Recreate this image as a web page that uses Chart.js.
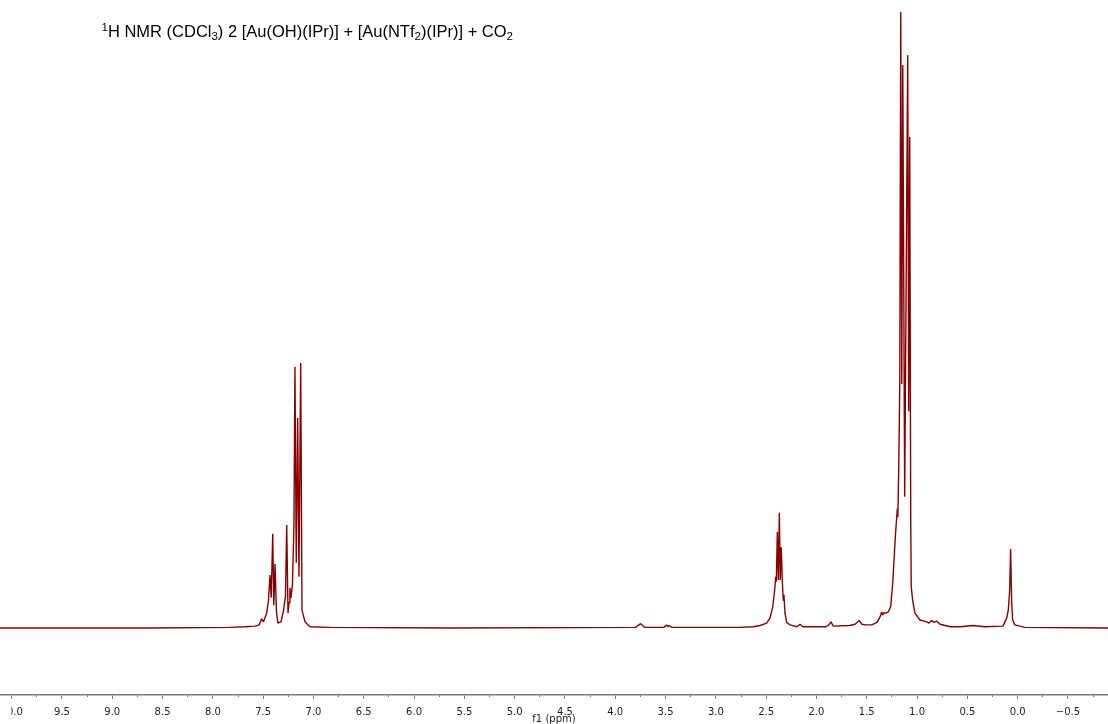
<!DOCTYPE html>
<html>
<head>
<meta charset="utf-8">
<title>1H NMR spectrum</title>
<script src="https://cdn.jsdelivr.net/npm/chart.js@4.4.1/dist/chart.umd.min.js"></script>
<style>
  html, body { margin: 0; padding: 0; background: #fff; }
  #wrap { width: 1108px; height: 724px; position: relative; }
</style>
</head>
<body>
<div id="wrap"><canvas id="spectrum"></canvas></div>
<script>
// chemical shift (ppm) and relative intensity of the traced spectrum
const shifts = [
  10.12, 8.63, 7.83, 7.68, 7.58, 7.54, 7.515, 7.497, 7.465, 7.447,
  7.432, 7.420, 7.405, 7.394, 7.382, 7.368, 7.353, 7.323, 7.298, 7.278,
  7.266, 7.253, 7.243, 7.234, 7.224, 7.209, 7.194, 7.184, 7.171, 7.157,
  7.144, 7.127, 7.114, 7.084, 7.035, 6.836, 5.64, 3.80, 3.748, 3.71,
  3.517, 3.491, 3.476, 3.466, 3.436, 2.76, 2.63, 2.56, 2.495, 2.462,
  2.435, 2.415, 2.405, 2.399, 2.389, 2.379, 2.369, 2.360, 2.350, 2.340,
  2.330, 2.323, 2.313, 2.296, 2.263, 2.194, 2.164, 2.134, 1.906, 1.876,
  1.856, 1.833, 1.67, 1.617, 1.575, 1.548, 1.508, 1.45, 1.398, 1.368,
  1.352, 1.342, 1.329, 1.309, 1.286, 1.262, 1.242, 1.229, 1.216, 1.202,
  1.196, 1.191, 1.182, 1.172, 1.162, 1.152, 1.142, 1.123, 1.093, 1.083,
  1.073, 1.063, 1.058, 1.044, 1.021, 0.971, 0.904, 0.881, 0.854, 0.831,
  0.804, 0.771, 0.67, 0.573, 0.444, 0.325, 0.146, 0.109, 0.093, 0.079,
  0.070, 0.060, 0.050, 0.027, -0.07, -0.90
];
const intensity = [
  0, 0, 0.1, 0.2, 0.3, 0.5, 1.5, 1.0, 2.4, 4.5,
  8.6, 4.9, 15.3, 3.7, 10.4, 2.6, 0.8, 1.0, 2.8, 5.2,
  16.7, 2.4, 4.1, 6.5, 4.9, 7.0, 16.7, 42.4, 10.6, 34.1,
  8.3, 43.0, 2.9, 1.0, 0.2, 0.1, 0, 0.1, 0.7, 0.1,
  0.1, 0.5, 0.2, 0.4, 0.1, 0.1, 0.2, 0.4, 0.8, 1.6,
  3.4, 6.2, 8.3, 7.5, 15.6, 7.8, 18.7, 7.8, 13.1, 7.8,
  4.5, 5.4, 2.4, 0.9, 0.5, 0.2, 0.6, 0.2, 0.2, 0.5,
  1.0, 0.3, 0.4, 0.6, 1.2, 0.6, 0.5, 0.5, 0.9, 1.8,
  2.6, 2.1, 2.5, 2.4, 2.6, 3.5, 7.3, 11.0, 14.8, 18.1,
  19.4, 18.0, 26.2, 39.2, 100.0, 39.6, 91.4, 21.3, 93.0, 35.2,
  79.7, 17.5, 6.7, 4.5, 2.4, 1.3, 1.0, 0.8, 1.2, 0.9,
  1.1, 0.6, 0.2, 0.2, 0.4, 0.2, 0.3, 1.6, 2.9, 6.2,
  12.8, 4.5, 1.3, 0.5, 0.1, 0
];

// axis: labelled ticks every 0.5 ppm, short ticks in between
const tickValues = [10, 9.5, 9, 8.5, 8, 7.5, 7, 6.5, 6, 5.5, 5, 4.5, 4, 3.5, 3, 2.5, 2, 1.5, 1, 0.5, 0, -0.5];
const tickLabels = ['10.0', '9.5', '9.0', '8.5', '8.0', '7.5', '7.0', '6.5', '6.0', '5.5', '5.0',
  '4.5', '4.0', '3.5', '3.0', '2.5', '2.0', '1.5', '1.0', '0.5', '0.0', '\u22120.5'];
const minorTicks = [9.75, 9.25, 8.75, 8.25, 7.75, 7.25, 6.75, 6.25, 5.75, 5.25, 4.75,
  4.25, 3.75, 3.25, 2.75, 2.25, 1.75, 1.25, 0.75, 0.25, -0.25, -0.75];
const ppmFrom = 10.116;
const ppmTo = -0.898;

// heading pieces: [text, 'sup' | 'sub' | '']
const titleParts = [
  ['1', 'sup'], ['H NMR (CDCl', ''], ['3', 'sub'],
  [') 2 [Au(OH)(IPr)] + [Au(NTf', ''], ['2', 'sub'],
  [')(IPr)] + CO', ''], ['2', 'sub']
];

const points = shifts.map((s, i) => ({ x: s, y: intensity[i] }));

const AXIS_GREY = '#7a7a7a';
const LABEL_FONT = { family: '"DejaVu Sans", Verdana, sans-serif', size: 10 };

// heading with super/subscripts, drawn straight on the canvas
const richTitle = {
  id: 'richTitle',
  afterDraw(chart) {
    const ctx = chart.ctx;
    ctx.save();
    ctx.fillStyle = '#000';
    ctx.textBaseline = 'alphabetic';
    let x = 101.5;
    const base = 36.8;
    for (const [text, kind] of titleParts) {
      const size = kind ? 11.5 : 16.5;
      const dy = kind === 'sup' ? -6 : kind === 'sub' ? 3 : 0;
      ctx.font = size + 'px "Liberation Sans", Arial, sans-serif';
      ctx.fillText(text, x, base + dy);
      x += ctx.measureText(text).width;
    }

    // the 10.0 label is cut off at the left edge of the window
    const xs = chart.scales.x;
    ctx.fillStyle = '#fff';
    ctx.fillRect(0, xs.top + 5, xs.getPixelForValue(10) - 0.5, xs.height);
    ctx.restore();
  }
};

new Chart(document.getElementById('spectrum'), {
  type: 'line',
  data: {
    datasets: [{
      data: points,
      borderColor: '#8a0000',
      borderWidth: 1.4,
      borderJoinStyle: 'bevel',
      pointRadius: 0,
      tension: 0,
      fill: false
    }]
  },
  options: {
    responsive: true,
    maintainAspectRatio: false,
    animation: false,
    events: [],
    layout: { padding: 0 },
    plugins: {
      legend: { display: false },
      title: { display: false },
      tooltip: { enabled: false }
    },
    scales: {
      x: {
        type: 'linear',
        position: 'bottom',
        reverse: true,
        min: ppmTo,
        max: ppmFrom,
        afterBuildTicks: s => { s.ticks = tickValues.map(v => ({ value: v })); },
        afterFit: s => { s.height = 29; s.paddingLeft = 0; s.paddingRight = 0; },
        border: { display: true, color: AXIS_GREY, width: 1.5 },
        grid: { drawOnChartArea: false, drawTicks: true, tickLength: 4, tickColor: AXIS_GREY, tickWidth: 1 },
        ticks: {
          autoSkip: false,
          maxRotation: 0,
          padding: 7,
          color: '#222',
          font: LABEL_FONT,
          callback: (v, i) => tickLabels[i]
        },
        title: {
          display: true,
          text: 'f1 (ppm)',
          color: '#222',
          font: { ...LABEL_FONT, lineHeight: 1 },
          padding: 0
        }
      },
      xMinor: {
        type: 'linear',
        position: 'bottom',
        weight: -1,
        reverse: true,
        min: ppmTo,
        max: ppmFrom,
        afterBuildTicks: s => { s.ticks = minorTicks.map(v => ({ value: v })); },
        afterFit: s => { s.height = 0; s.paddingLeft = 0; s.paddingRight = 0; },
        border: { display: false },
        grid: { drawOnChartArea: false, drawTicks: true, tickLength: 2, tickColor: AXIS_GREY, tickWidth: 1 },
        ticks: { display: false, autoSkip: false }
      },
      y: {
        display: false,
        min: -10.88,
        max: 101.95
      }
    }
  },
  plugins: [richTitle]
});
</script>
</body>
</html>
